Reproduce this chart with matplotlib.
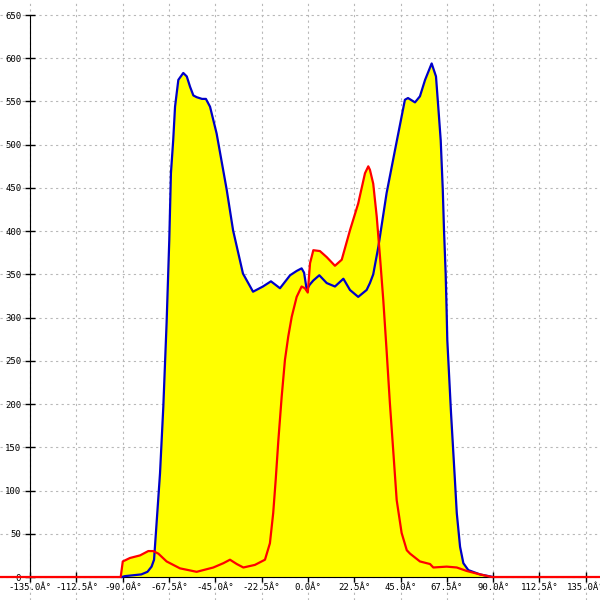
import numpy as np
import matplotlib
matplotlib.use('Agg')
from matplotlib import pyplot as plt

# blue series (angle in degrees, value)
blue_x = [-90.5, -89, -85, -81, -78, -76, -74.8, -71.9, -70.3, -68.7, -67.4, -66.6,
          -65.5, -64.6, -63.0, -60.6, -58.9, -57.3, -55.7, -54.1, -51.5, -49.6, -47.6,
          -44.4, -39.5, -36.4, -31.6, -26.7, -21.9, -18.0, -13.6, -8.7, -5.5, -3.1,
          -1.9, -0.6, 0.8, 2.6, 5.5, 9.1, 13.1, 17.2, 20.4, 24.4, 28.5, 30.1, 31.7,
          34.2, 38.2, 42.3, 44.7, 47.1, 48.6, 52.0, 54.4, 56.9, 60.1, 62.2, 63.3,
          64.5, 65.5, 66.1, 66.9, 67.4, 67.7, 69.5, 71.4, 72.3, 73.9, 75.5, 77.9,
          83.6, 90.0]
blue_y = [0, 1, 2, 3, 6, 12, 20, 120, 197, 294, 390, 467,
          505, 544, 575, 583, 579, 567, 557, 555, 553, 553, 544,
          513, 448, 401, 351, 330, 336, 342, 334, 349, 354, 357,
          352, 332, 338, 343, 349, 340, 336, 345, 332, 324, 332, 340, 350,
          382, 444, 494, 523, 552, 554, 549, 556, 575, 594, 579, 544,
          505, 448, 401, 351, 305, 274, 190, 112, 74, 35, 16, 8,
          3, 0]

# red series
red_x = [-150, -91, -90, -86.5, -81.6, -77.6, -75.2, -72.7, -68.7, -62.2, -54.1,
         -46.0, -41.1, -37.9, -34.6, -31.4, -25.8, -20.9, -18.5, -16.9, -15.7,
         -14.4, -12.8, -11.2, -9.6, -7.9, -5.5, -3.1, -1.5, -0.1, 1.0, 2.6, 5.8,
         9.1, 13.1, 16.4, 20.4, 24.4, 27.7, 29.3, 30.1, 31.7, 33.4, 35.0, 36.6,
         38.2, 39.8, 41.4, 43.1, 45.5, 48.0, 49.6, 54.4, 59.3, 60.9, 67.4, 72.3,
         77.1, 83.6, 89.3, 150]
red_y = [0, 0, 18, 22, 25, 30, 30, 27, 18, 10, 6,
         11, 16, 20, 15, 11, 14, 20, 39, 74, 112,
         158, 208, 251, 278, 301, 324, 336, 334, 329, 363, 378, 377,
         370, 360, 367, 401, 432, 467, 475, 471, 455, 417, 370, 320,
         262, 201, 147, 89, 51, 31, 27, 18, 15, 11, 12, 11,
         7, 3, 0, 0]

xticks = [-135, -112.5, -90, -67.5, -45, -22.5, 0, 22.5, 45, 67.5, 90, 112.5, 135]
xlabels = ['%.1fÂ°' % t for t in xticks]
yticks = list(range(0, 651, 50))
ylabels = [str(t) for t in yticks]

fig = plt.figure(figsize=(6, 6), dpi=100)
ax = fig.add_axes([0, 0, 1, 1])
ax.set_xlim(-149.66, 141.9)
ax.set_ylim(-26.6, 667.4)

ax.fill_between(blue_x, 0, blue_y, color='#ffff00', lw=0, zorder=1)
ax.fill_between(red_x, 0, red_y, color='#ffff00', lw=0, zorder=1)
ax.plot(blue_x, blue_y, color='#0000c8', lw=1.6, zorder=3)
ax.plot(red_x, red_y, color='#ff0000', lw=1.6, zorder=4)

ax.grid(True, color='#b8b8b8', ls=(0, (2, 3)), lw=0.8, zorder=0)
ax.set_axisbelow(True)

for s in ['top', 'right']:
    ax.spines[s].set_visible(False)
ax.spines['left'].set_position(('data', -135))
ax.spines['left'].set_bounds(0, 650)
ax.spines['bottom'].set_position(('data', 0))
ax.spines['bottom'].set_bounds(-135, 135)

ax.set_xticks(xticks)
ax.set_xticklabels(xlabels)
ax.set_yticks(yticks)
ax.set_yticklabels(ylabels)
ax.tick_params(axis='both', direction='inout', length=7, width=1,
               labelsize=6.5, pad=1)
ax.tick_params(axis='y', pad=3)
for lab in ax.get_xticklabels() + ax.get_yticklabels():
    lab.set_family('DejaVu Sans Mono')

fig.savefig('out.png', dpi=100)
